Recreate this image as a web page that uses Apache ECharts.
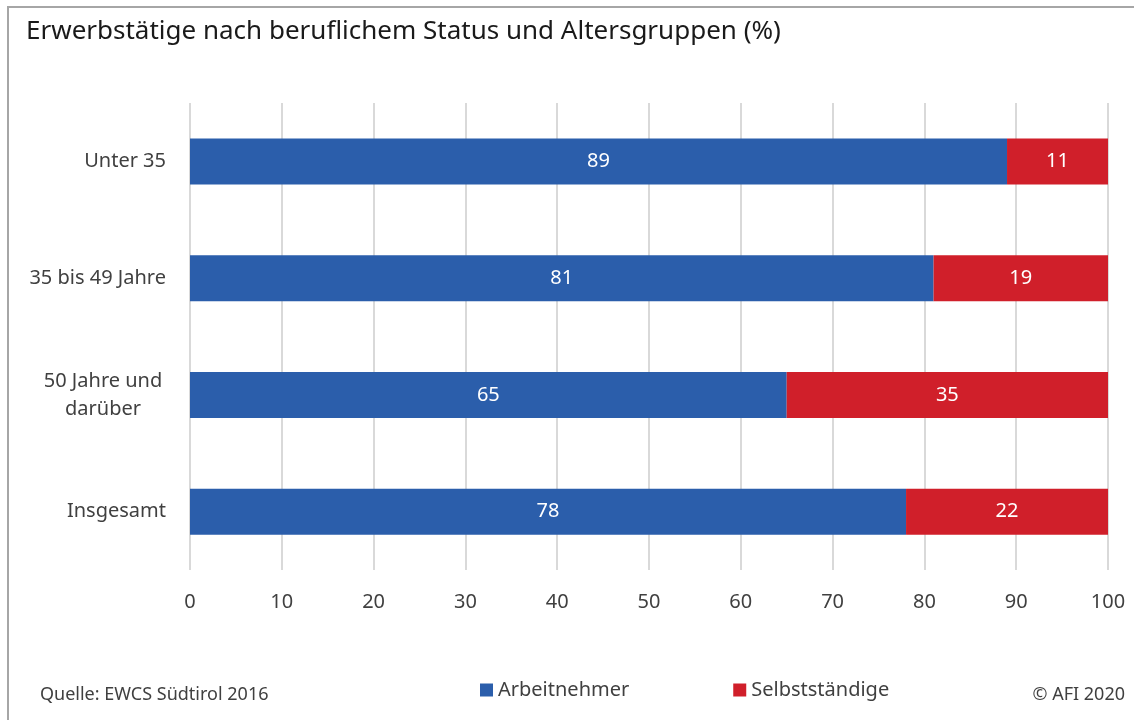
<!DOCTYPE html>
<html>
<head>
<meta charset="utf-8">
<script src="https://cdn.jsdelivr.net/npm/echarts@6/dist/echarts.min.js"></script>
<style>
  html, body { margin: 0; padding: 0; background: #fff; }
  #chart { width: 1134px; height: 720px; }
</style>
</head>
<body>
<div id="chart"></div>
<script>
const categories = ["Unter 35", "35 bis 49 Jahre", "50 Jahre und\ndarüber", "Insgesamt"];
const arbeitnehmer = [89, 81, 65, 78];
const selbststaendige = [11, 19, 35, 22];
const xTicks = [0, 10, 20, 30, 40, 50, 60, 70, 80, 90, 100];

const font = "Noto Sans";
const chart = echarts.init(document.getElementById("chart"));

chart.setOption({
  animation: false,
  textStyle: { fontFamily: font },
  graphic: [
    {
      type: "rect",
      shape: { x: 8, y: 7, width: 1300, height: 900 },
      style: { fill: "none", stroke: "#a6a6a6", lineWidth: 2 },
    },
    {
      type: "text",
      left: 26, top: 19,
      style: { text: "Erwerbstätige nach beruflichem Status und Altersgruppen (%)", font: "26px " + font, fill: "#1a1a1a" },
    },
    {
      type: "text",
      left: 40, top: 686,
      style: { text: "Quelle: EWCS Südtirol 2016", font: "18px " + font, fill: "#404040" },
    },
    {
      type: "text",
      right: 9, top: 686,
      style: { text: "© AFI 2020", font: "18px " + font, fill: "#404040" },
    },
  ],
  legend: {
    bottom: 15,
    left: 475,
    itemWidth: 13,
    itemHeight: 13,
    itemGap: 104,
    icon: "rect",
    textStyle: { fontSize: 20, color: "#404040", fontFamily: font },
    data: ["Arbeitnehmer", "Selbstständige"],
  },
  grid: { left: 190, right: 26, top: 103, bottom: 150 },
  xAxis: {
    type: "value",
    min: 0,
    max: 100,
    interval: 10,
    axisLine: { show: false },
    axisTick: { show: false },
    splitLine: { lineStyle: { color: "#d9d9d9", width: 2 } },
    axisLabel: {
      margin: 22,
      fontSize: 20,
      color: "#404040",
      formatter: (v) => (xTicks.includes(v) ? String(v) : ""),
    },
  },
  yAxis: {
    type: "category",
    inverse: true,
    data: categories,
    axisLine: { show: false },
    axisTick: { show: false },
    axisLabel: {
      margin: 24,
      fontSize: 20,
      color: "#404040",
      lineHeight: 28,
      formatter: (v) =>
        v.indexOf("\n") >= 0
          ? v.split("\n").map((l) => "{c|" + l + "}").join("\n")
          : v,
      rich: {
        c: { width: 126, align: "center", fontSize: 20, color: "#404040", lineHeight: 28, fontFamily: font },
      },
    },
  },
  series: [
    {
      name: "Arbeitnehmer",
      type: "bar",
      stack: "total",
      barWidth: 46,
      data: arbeitnehmer,
      itemStyle: { color: "#2b5eab" },
      label: { show: true, position: "inside", color: "#fff", fontSize: 20, fontFamily: font },
    },
    {
      name: "Selbstständige",
      type: "bar",
      stack: "total",
      barWidth: 46,
      data: selbststaendige,
      itemStyle: { color: "#d01f2a" },
      label: { show: true, position: "inside", color: "#fff", fontSize: 20, fontFamily: font },
    },
  ],
});
</script>
</body>
</html>
